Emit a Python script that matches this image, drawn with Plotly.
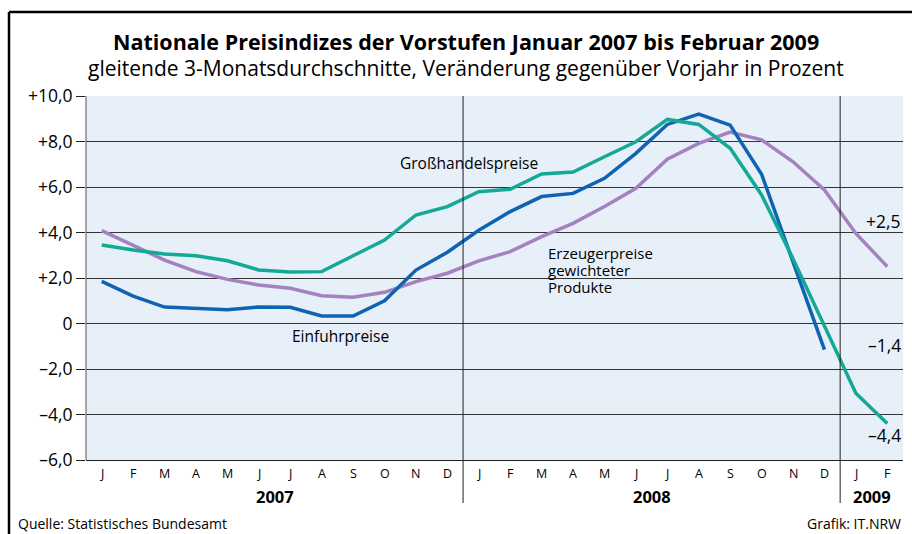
import plotly.graph_objects as go

months = ["J", "F", "M", "A", "M", "J", "J", "A", "S", "O", "N", "D",
          "J", "F", "M", "A", "M", "J", "J", "A", "S", "O", "N", "D",
          "J", "F"]
years = ["2007", "2008", "2009"]
year_centers = [5.5, 17.5, 24.5]
year_breaks = [11.5, 23.5]

einfuhrpreise = [1.85, 1.2, 0.72, 0.65, 0.6, 0.73, 0.71, 0.33, 0.33, 1.0, 2.35, 3.13,
                 4.1, 4.92, 5.58, 5.72, 6.38, 7.48, 8.75, 9.2, 8.72, 6.56, 2.7, -1.15]
grosshandelspreise = [3.45, 3.23, 3.05, 2.98, 2.76, 2.35, 2.26, 2.28, 2.98, 3.67, 4.77, 5.14,
                      5.79, 5.9, 6.57, 6.66, 7.33, 7.99, 8.97, 8.75, 7.7, 5.65, 2.85, -0.14,
                      -3.07, -4.4]
erzeugerpreise = [4.08, 3.45, 2.79, 2.28, 1.94, 1.69, 1.55, 1.22, 1.15, 1.37, 1.84, 2.21,
                  2.75, 3.16, 3.82, 4.4, 5.14, 5.94, 7.22, 7.92, 8.41, 8.07, 7.11, 5.87,
                  3.96, 2.5]

y_ticks = [-6, -4, -2, 0, 2, 4, 6, 8, 10]
y_ticktext = ["–6,0", "–4,0", "–2,0", "0", "+2,0", "+4,0", "+6,0", "+8,0", "+10,0"]

end_labels = ["+2,5", "–1,4", "–4,4"]
end_label_y = [4.5, -0.95, -4.9]

FONT = "Open Sans"
C_BLUE = "#0f63b3"
C_GREEN = "#13a995"
C_PURPLE = "#a481bf"

W, H = 912, 534
L, R, T, B = 86, 9, 96, 74
pw, ph = W - L - R, H - T - B


def px_x(x):
    return (x - L) / pw


def px_y(y):
    return (H - B - y) / ph


fig = go.Figure()
for name, vals, col in [("Erzeugerpreise", erzeugerpreise, C_PURPLE),
                        ("Einfuhrpreise", einfuhrpreise, C_BLUE),
                        ("Großhandelspreise", grosshandelspreise, C_GREEN)]:
    fig.add_trace(go.Scatter(x=list(range(len(vals))), y=vals, mode="lines",
                             line=dict(color=col, width=3.5), name=name,
                             showlegend=False))

shapes = []
for xb in year_breaks:
    shapes.append(dict(type="line", xref="x", yref="paper", x0=xb, x1=xb,
                       y0=px_y(503), y1=1, line=dict(color="#222", width=1)))
shapes.append(dict(type="line", xref="paper", yref="paper", x0=0, x1=0, y0=0, y1=1,
                   line=dict(color="#555", width=1)))
shapes.append(dict(type="line", xref="paper", yref="paper", x0=px_x(9), x1=px_x(9),
                   y0=px_y(560), y1=px_y(12), line=dict(color="black", width=2.5)))
shapes.append(dict(type="line", xref="paper", yref="paper", x0=px_x(9), x1=px_x(930),
                   y0=px_y(12), y1=px_y(12), line=dict(color="black", width=2.5)))

ann = []
ann.append(dict(text="<b>Nationale Preisindizes der Vorstufen Januar 2007 bis Februar 2009</b>",
                xref="paper", yref="paper", x=px_x(466), y=px_y(41), showarrow=False,
                font=dict(family=FONT, size=21.5, color="black"), xanchor="center", yanchor="middle"))
ann.append(dict(text="gleitende 3-Monatsdurchschnitte, Veränderung gegenüber Vorjahr in Prozent",
                xref="paper", yref="paper", x=px_x(466), y=px_y(68), showarrow=False,
                font=dict(family=FONT, size=21, color="black"), xanchor="center", yanchor="middle"))
for i, m in enumerate(months):
    ann.append(dict(text=m, xref="x", yref="paper", x=i, y=px_y(473), showarrow=False,
                    font=dict(family=FONT, size=12.5, color="black"), xanchor="center", yanchor="middle"))
for yr, xc in zip(years, year_centers):
    ann.append(dict(text=f"<b>{yr}</b>", xref="x", yref="paper", x=xc, y=px_y(496), showarrow=False,
                    font=dict(family=FONT, size=16.5, color="black"), xanchor="center", yanchor="middle"))
for t, yv in zip(end_labels, end_label_y):
    ann.append(dict(text=t, xref="paper", yref="y", x=px_x(903), y=yv, showarrow=False,
                    font=dict(family=FONT, size=17.5, color="black"), xanchor="right", yanchor="middle"))
ann.append(dict(text="Großhandelspreise", xref="paper", yref="paper", x=px_x(469), y=px_y(163),
                showarrow=False, font=dict(family=FONT, size=15.5, color="black"),
                xanchor="center", yanchor="middle"))
ann.append(dict(text="Einfuhrpreise", xref="paper", yref="paper", x=px_x(340), y=px_y(336),
                showarrow=False, font=dict(family=FONT, size=15.5, color="black"),
                xanchor="center", yanchor="middle"))
for txt, yy in [("Erzeugerpreise", 253), ("gewichteter", 270), ("Produkte", 287)]:
    ann.append(dict(text=txt, xref="paper", yref="paper", x=px_x(546), y=px_y(yy),
                    showarrow=False, font=dict(family=FONT, size=15, color="black"),
                    xanchor="left", yanchor="middle"))
ann.append(dict(text="Quelle: Statistisches Bundesamt", xref="paper", yref="paper",
                x=px_x(16), y=px_y(523), showarrow=False,
                font=dict(family=FONT, size=14, color="black"), xanchor="left", yanchor="middle"))
ann.append(dict(text="Grafik: IT.NRW", xref="paper", yref="paper",
                x=px_x(903), y=px_y(523), showarrow=False,
                font=dict(family=FONT, size=14, color="black"), xanchor="right", yanchor="middle"))

fig.update_layout(
    width=W, height=H, autosize=False,
    margin=dict(l=L, r=R, t=T, b=B, pad=0),
    paper_bgcolor="white", plot_bgcolor="#e7eff9",
    font=dict(family=FONT, color="black"),
    shapes=shapes, annotations=ann,
    xaxis=dict(range=[-0.5, 25.5], showgrid=False, zeroline=False, showticklabels=False,
               ticks="", showline=True, linecolor="#222", linewidth=1, fixedrange=True),
    yaxis=dict(range=[-6, 10], tickvals=y_ticks, ticktext=y_ticktext, showgrid=True,
               gridcolor="#333", gridwidth=1, zeroline=False, ticks="outside", ticklen=9,
               tickcolor="#222", tickwidth=1, tickfont=dict(family=FONT, size=17.5, color="black"),
               showline=False, fixedrange=True),
)

fig.write_html("out.html", config={"displayModeBar": False},
               post_script="document.body.style.margin='0';document.body.style.overflow='hidden';")
